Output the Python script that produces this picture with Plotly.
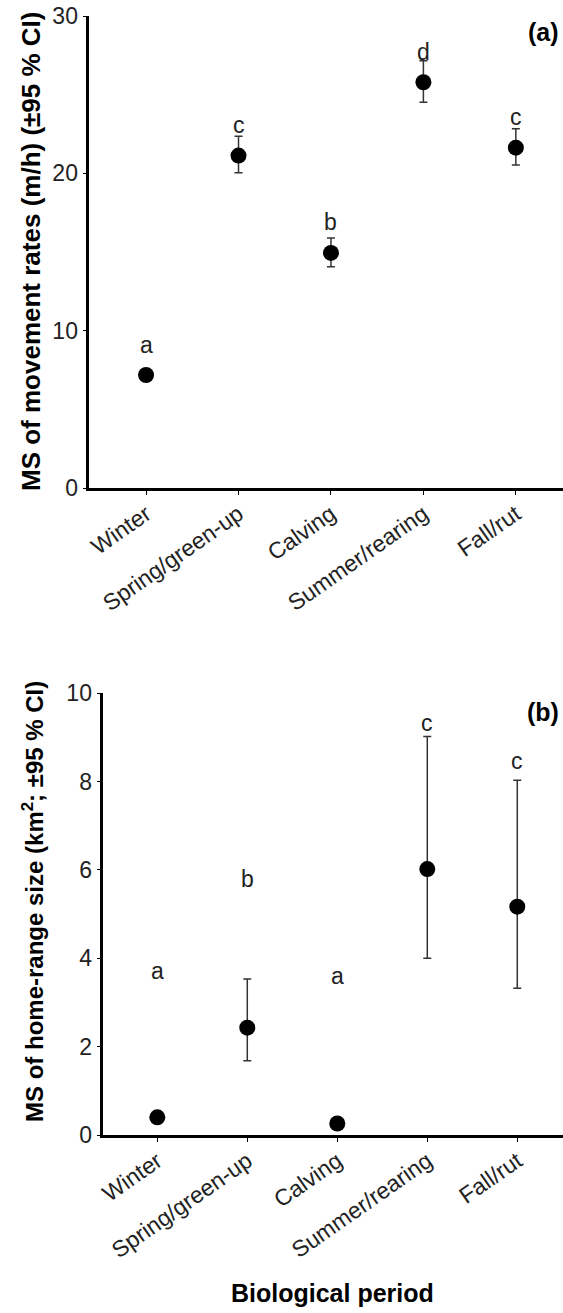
import plotly.graph_objects as go

W, H = 563, 1313

periods = ["Winter", "Spring/green-up", "Calving", "Summer/rearing", "Fall/rut"]

# Panel (a): movement rates (m/h)
rate_mean = [7.18, 21.13, 14.94, 25.79, 21.63]
rate_upper = [7.40, 22.36, 15.89, 27.15, 22.84]
rate_lower = [6.95, 20.03, 14.07, 24.52, 20.53]
rate_letters = ["a", "c", "b", "d", "c"]
rate_letter_y = [9.09, 23.08, 16.93, 27.74, 23.57]

# Panel (b): home-range size (km2)
hr_mean = [0.40, 2.43, 0.26, 6.02, 5.17]
hr_upper = [0.52, 3.53, 0.36, 9.02, 8.03]
hr_lower = [0.30, 1.68, 0.18, 4.00, 3.32]
hr_letters = ["a", "b", "a", "c", "c"]
hr_letter_y = [3.72, 5.79, 3.60, 9.32, 8.47]

FONT = "Arial, Liberation Sans, sans-serif"

def px_y(p):
    return 1 - p / H

def px_x(p):
    return p / W

fig = go.Figure()

idx = list(range(len(periods)))

fig.add_trace(go.Scatter(
    x=idx, y=rate_mean, mode="markers",
    marker=dict(color="black", size=16),
    error_y=dict(type="data", symmetric=False,
                 array=[u - m for u, m in zip(rate_upper, rate_mean)],
                 arrayminus=[m - l for m, l in zip(rate_mean, rate_lower)],
                 color="#333333", thickness=1.5, width=4),
    xaxis="x", yaxis="y", showlegend=False, hoverinfo="skip"))

fig.add_trace(go.Scatter(
    x=idx, y=hr_mean, mode="markers",
    marker=dict(color="black", size=16),
    error_y=dict(type="data", symmetric=False,
                 array=[u - m for u, m in zip(hr_upper, hr_mean)],
                 arrayminus=[m - l for m, l in zip(hr_mean, hr_lower)],
                 color="#333333", thickness=1.5, width=4),
    xaxis="x2", yaxis="y2", showlegend=False, hoverinfo="skip"))

annotations = []
for i, (t, y) in enumerate(zip(rate_letters, rate_letter_y)):
    annotations.append(dict(x=i, y=y, xref="x", yref="y", text=t, showarrow=False,
                            font=dict(family=FONT, size=23, color="#222"),
                            xanchor="center", yanchor="middle"))
for i, (t, y) in enumerate(zip(hr_letters, hr_letter_y)):
    annotations.append(dict(x=i, y=y, xref="x2", yref="y2", text=t, showarrow=False,
                            font=dict(family=FONT, size=23, color="#222"),
                            xanchor="center", yanchor="middle"))

annotations += [
    dict(x=px_x(543), y=px_y(32), xref="paper", yref="paper", text="<b>(a)</b>",
         showarrow=False, font=dict(family=FONT, size=25, color="black"),
         xanchor="center", yanchor="middle"),
    dict(x=px_x(543), y=px_y(712), xref="paper", yref="paper", text="<b>(b)</b>",
         showarrow=False, font=dict(family=FONT, size=25, color="black"),
         xanchor="center", yanchor="middle"),
    dict(x=px_x(31), y=px_y(252), xref="paper", yref="paper",
         text="<b>MS of movement rates (m/h) (±95 % CI)</b>", textangle=-90,
         showarrow=False, font=dict(family=FONT, size=26, color="black"),
         xanchor="center", yanchor="middle"),
    dict(x=px_x(33), y=px_y(902), xref="paper", yref="paper",
         text="<b>MS of home-range size (km<sup>2</sup>; ±95 % CI)</b>", textangle=-90,
         showarrow=False, font=dict(family=FONT, size=24, color="black"),
         xanchor="center", yanchor="middle"),
    dict(x=px_x(333), y=px_y(1293), xref="paper", yref="paper",
         text="<b>Biological period</b>",
         showarrow=False, font=dict(family=FONT, size=25, color="black"),
         xanchor="center", yanchor="middle"),
]

xcommon = dict(showline=True, linecolor="black", linewidth=2.5, ticks="outside",
               ticklen=4, tickwidth=1, tickcolor="black", showgrid=False, zeroline=False,
               tickangle=-35, tickmode="array", tickvals=idx, ticktext=periods,
               automargin=False, ticklabelstandoff=-3,
               tickfont=dict(family=FONT, size=23, color="#222"))
ycommon = dict(showline=True, linecolor="black", linewidth=2.5, ticks="outside",
               ticklen=4, tickwidth=1, tickcolor="black", showgrid=False, zeroline=False,
               automargin=False,
               tickfont=dict(family=FONT, size=23, color="#222"))

fig.update_layout(
    template="none",
    width=W, height=H,
    margin=dict(l=0, r=0, t=0, b=0, pad=0, autoexpand=False),
    paper_bgcolor="white", plot_bgcolor="white",
    xaxis=dict(domain=[px_x(89.3), 1.0], range=[-0.614, 4.51], anchor="y", **xcommon),
    yaxis=dict(domain=[px_y(488), px_y(16)], range=[0, 30], tickvals=[0, 10, 20, 30],
               anchor="x", **ycommon),
    xaxis2=dict(domain=[px_x(103.3), 1.0], range=[-0.6, 4.508], anchor="y2", **xcommon),
    yaxis2=dict(domain=[px_y(1135), px_y(693.3)], range=[0, 10],
                tickvals=[0, 2, 4, 6, 8, 10], anchor="x2", **ycommon),
    annotations=annotations,
)

fig.write_html("out.html", config={"displayModeBar": False},
               post_script="document.body.style.margin='0';document.body.style.overflow='hidden';")
